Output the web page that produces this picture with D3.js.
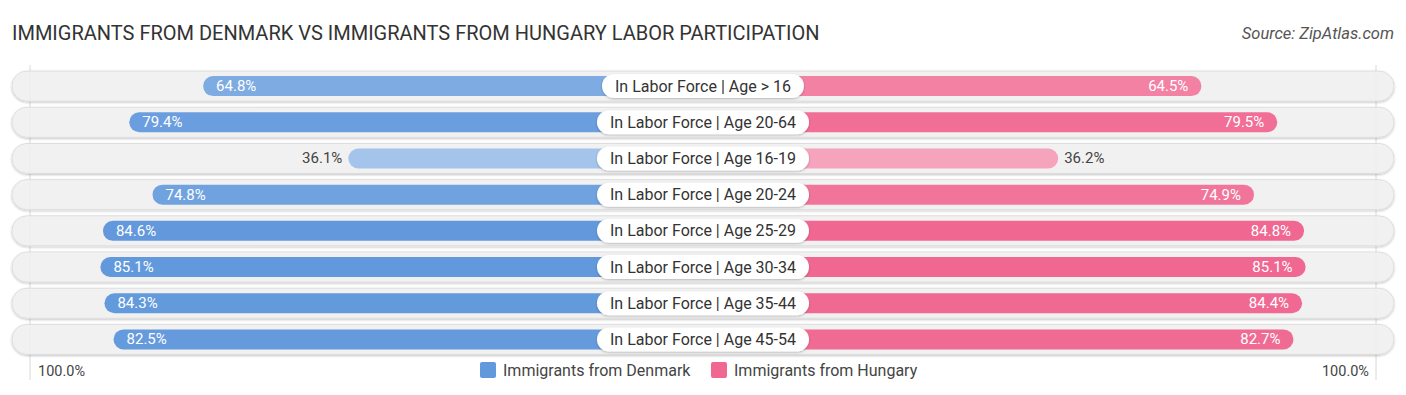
<!DOCTYPE html>
<html><head><meta charset="utf-8">
<script src="https://cdn.jsdelivr.net/npm/d3@7"></script>
<style>body{margin:0;background:#fff;font-family:Roboto,"Noto Sans",sans-serif;}</style>
</head><body><svg id="c" width="1406" height="395"></svg>
<script>
const categories = ["In Labor Force | Age > 16","In Labor Force | Age 20-64","In Labor Force | Age 16-19","In Labor Force | Age 20-24","In Labor Force | Age 25-29","In Labor Force | Age 30-34","In Labor Force | Age 35-44","In Labor Force | Age 45-54"];
const denmark = [64.8,79.4,36.1,74.8,84.6,85.1,84.3,82.5];
const hungary = [64.5,79.5,36.2,74.9,84.8,85.1,84.4,82.7];
const seriesNames = ["Immigrants from Denmark","Immigrants from Hungary"];
const axisLabels = ["100.0%","100.0%"];

const svg = d3.select("#c");
const cx = 703, off = 172;
const xl = d3.scaleLinear().domain([0,100]).range([cx-off, cx-off-506]);
const xr = d3.scaleLinear().domain([0,100]).range([cx+off, cx+off+506]);
const y = d3.scaleBand().domain(categories).range([68,357.5]).paddingInner(0);
const blueC = d3.scaleLinear().domain([30,85]).range(["#adc9ed","#6299dc"]);
const pinkC = d3.scaleLinear().domain([30,85]).range(["#f7abc3","#f06892"]);

svg.append("text").attr("x",12).attr("y",40).attr("font-size",20).attr("fill","#333").text("IMMIGRANTS FROM DENMARK VS IMMIGRANTS FROM HUNGARY LABOR PARTICIPATION");
svg.append("text").attr("x",1394).attr("y",39).attr("text-anchor","end").attr("font-size",16.5).attr("font-style","italic").attr("fill","#555").text("Source: ZipAtlas.com");

const defs = svg.append("defs");
const f = defs.append("filter").attr("id","sh").attr("x","-10%").attr("y","-30%").attr("width","120%").attr("height","170%");
f.append("feDropShadow").attr("dx",0).attr("dy",1).attr("stdDeviation",1).attr("flood-color","#000").attr("flood-opacity",0.25);

[30,1376].forEach(x=>{
  svg.append("line").attr("x1",x).attr("x2",x).attr("y1",65).attr("y2",380).attr("stroke","#d8d8d8").attr("stroke-width",1);
});

const rows = svg.selectAll("g.row").data(categories).enter().append("g");
rows.each(function(c,i){
  const g = d3.select(this);
  const yc = y(c) + y.bandwidth()/2;
  g.append("rect").attr("x",12).attr("y",yc-15).attr("width",1382).attr("height",30).attr("rx",15)
    .attr("fill","#f3f3f3").attr("fill-opacity",0.85).attr("stroke","#dedede").attr("stroke-width",1).attr("filter","url(#sh)");
  const d = denmark[i], h = hungary[i];
  const bh = 20;
  g.append("rect").attr("x",xl(d)).attr("y",yc-bh/2).attr("width",cx-xl(d)).attr("height",bh).attr("rx",10).attr("fill",blueC(d));
  g.append("rect").attr("x",cx).attr("y",yc-bh/2).attr("width",xr(h)-cx).attr("height",bh).attr("rx",10).attr("fill",pinkC(h));
  const inside = d > 50;
  g.append("text").attr("x", inside ? xl(d)+13 : xl(d)-6).attr("y",yc+5).attr("text-anchor", inside?"start":"end")
    .attr("font-size",15).attr("fill", inside?"#fff":"#444").text(d.toFixed(1)+"%");
  const insideH = h > 50;
  g.append("text").attr("x", insideH ? xr(h)-13 : xr(h)+6).attr("y",yc+5).attr("text-anchor", insideH?"end":"start")
    .attr("font-size",15).attr("fill", insideH?"#fff":"#444").text(h.toFixed(1)+"%");
  const t = g.append("text").attr("x",cx).attr("y",yc+5.5).attr("text-anchor","middle").attr("font-size",16).attr("fill","#333").text(c);
  const w = t.node().getComputedTextLength();
  g.insert("rect","text:last-of-type").attr("x",cx-w/2-13).attr("y",yc-12).attr("width",w+26).attr("height",24).attr("rx",12)
    .attr("fill","#fff").attr("filter","url(#sh)");
  t.raise();
});

svg.append("text").attr("x",38).attr("y",376).attr("font-size",14.5).attr("fill","#444").text(axisLabels[0]);
svg.append("text").attr("x",1369).attr("y",376).attr("text-anchor","end").attr("font-size",14.5).attr("fill","#444").text(axisLabels[1]);

const lg = svg.append("g");
const items = [{n:seriesNames[0],c:"#6299dc",x:480},{n:seriesNames[1],c:"#f06892",x:711}];
items.forEach(it=>{
  lg.append("rect").attr("x",it.x).attr("y",362).attr("width",16).attr("height",16).attr("rx",2).attr("fill",it.c);
  lg.append("text").attr("x",it.x+23).attr("y",376).attr("font-size",16).attr("fill","#444").text(it.n);
});
</script></body></html>
